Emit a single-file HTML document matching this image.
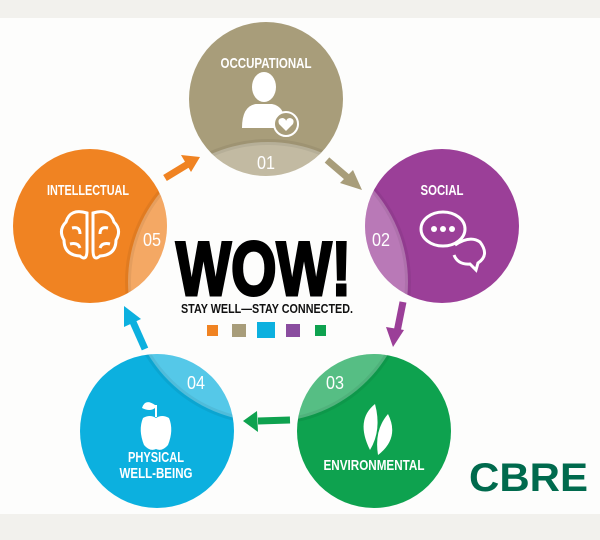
<!DOCTYPE html>
<html><head><meta charset="utf-8"><style>
html,body{margin:0;padding:0;background:#fff}
svg{display:block}
text{font-family:"Liberation Sans Narrow","Liberation Sans",sans-serif;font-weight:bold}
</style></head><body>
<svg width="600" height="540" viewBox="0 0 600 540" xmlns="http://www.w3.org/2000/svg">
<rect x="0" y="0" width="600" height="540" fill="#fdfdfc"/>
<rect x="0" y="0" width="600" height="18" fill="#f2f1ed"/>
<rect x="0" y="514" width="600" height="26" fill="#f2f1ed"/>
<defs>
<clipPath id="c1"><circle cx="266" cy="99" r="77"/></clipPath>
<clipPath id="c2"><circle cx="442" cy="226" r="77"/></clipPath>
<clipPath id="c3"><circle cx="374" cy="431" r="77"/></clipPath>
<clipPath id="c4"><circle cx="157" cy="431" r="77"/></clipPath>
<clipPath id="c5"><circle cx="90" cy="226" r="77"/></clipPath>
</defs>
<circle cx="266" cy="99" r="77" fill="#a89d7a"/>
<circle cx="442" cy="226" r="77" fill="#9b3f98"/>
<circle cx="374" cy="431" r="77" fill="#0ea24f"/>
<circle cx="157" cy="431" r="77" fill="#0cb0df"/>
<circle cx="90" cy="226" r="77" fill="#f08322"/>
<g fill="#fff" fill-opacity="0.3" stroke="#000" stroke-opacity="0.06" stroke-width="6">
<circle cx="268" cy="282" r="140" clip-path="url(#c1)"/>
<circle cx="268" cy="282" r="140" clip-path="url(#c2)"/>
<circle cx="268" cy="282" r="140" clip-path="url(#c3)"/>
<circle cx="268" cy="282" r="140" clip-path="url(#c4)"/>
<circle cx="268" cy="282" r="140" clip-path="url(#c5)"/>
</g>
<g fill="#fff" font-size="15" text-anchor="middle">
<text x="266" y="68" textLength="91" lengthAdjust="spacingAndGlyphs">OCCUPATIONAL</text>
<text x="442" y="195" textLength="43" lengthAdjust="spacingAndGlyphs">SOCIAL</text>
<text x="88" y="195" textLength="82" lengthAdjust="spacingAndGlyphs">INTELLECTUAL</text>
<text x="374" y="470" textLength="101" lengthAdjust="spacingAndGlyphs">ENVIRONMENTAL</text>
<text x="156" y="462" textLength="56" lengthAdjust="spacingAndGlyphs">PHYSICAL</text>
<text x="156" y="478" textLength="73" lengthAdjust="spacingAndGlyphs">WELL-BEING</text>
</g>
<g fill="#fff" font-size="18" text-anchor="middle">
<text x="266" y="169" style="font-weight:normal" textLength="18" lengthAdjust="spacingAndGlyphs">01</text>
<text x="381" y="246" style="font-weight:normal" textLength="18" lengthAdjust="spacingAndGlyphs">02</text>
<text x="335" y="389" style="font-weight:normal" textLength="18" lengthAdjust="spacingAndGlyphs">03</text>
<text x="196" y="389" style="font-weight:normal" textLength="18" lengthAdjust="spacingAndGlyphs">04</text>
<text x="152" y="246" style="font-weight:normal" textLength="18" lengthAdjust="spacingAndGlyphs">05</text>
</g>
<g fill="#fff">
<ellipse cx="264" cy="87" rx="12" ry="15"/>
<path d="M242 128 Q242 106 256 104 L272 104 Q282 106 284 116 L280 128 Z"/>
<circle cx="286" cy="124" r="12" fill="#a89d7a" stroke="#fff" stroke-width="2"/>
<path d="M286 131 L279 124 Q277 118 283 118 Q286 119 286 121 Q287 118 290 118 Q295 119 293 124 Z"/>
</g>
<g fill="none" stroke="#fff" stroke-width="3">
<ellipse cx="443" cy="229" rx="22" ry="17"/>
<path d="M455 245 Q470 235 480 242 Q490 255 478 263 L476 270 L470 264 Q458 265 454 255"/>
</g>
<g fill="#fff"><circle cx="434" cy="229" r="3"/><circle cx="443" cy="229" r="3"/><circle cx="452" cy="229" r="3"/></g>
<g fill="none" stroke="#fff" stroke-width="3">
<path d="M87 213 Q70 208 66 222 Q58 230 64 240 Q64 255 80 256 Q87 262 87 250 Z"/>
<path d="M93 213 Q110 208 114 222 Q122 230 116 240 Q116 255 100 256 Q93 262 93 250 Z"/>
<path d="M72 228 Q80 226 80 234 M108 228 Q100 226 100 234 M70 244 Q78 242 80 248 M110 244 Q102 242 100 248"/>
</g>
<g fill="#fff">
<path d="M375 404 Q355 420 370 450 Q382 430 375 404 Z"/>
<path d="M388 414 Q400 438 378 455 Q374 430 388 414 Z"/>
<path d="M143 418 Q150 414 156 418 Q162 414 169 418 Q174 430 168 445 Q162 452 156 449 Q150 452 144 445 Q138 430 143 418 Z"/>
<path d="M155 405 Q145 398 142 408 Q150 412 155 408 Z"/>
<rect x="155" y="405" width="2" height="12"/>
</g>
<g stroke-width="7" fill="none">
<line x1="165" y1="178" x2="188" y2="164" stroke="#f08322"/>
<line x1="327" y1="160" x2="348" y2="178" stroke="#a89d7a"/>
<line x1="403" y1="302" x2="397" y2="332" stroke="#9b3f98"/>
<line x1="290" y1="420" x2="258" y2="421" stroke="#0ea24f"/>
<line x1="145" y1="349" x2="133" y2="322" stroke="#0cb0df"/>
</g>
<polygon points="200,157 181,155 191,172" fill="#f08322"/>
<polygon points="362,190 340,183 353,170" fill="#a89d7a"/>
<polygon points="393,347 386,327 404,330" fill="#9b3f98"/>
<polygon points="243,421 257,411 258,432" fill="#0ea24f"/>
<polygon points="124,306 124,327 141,319" fill="#0cb0df"/>
<text x="176" y="295" font-size="76" fill="#000" stroke="#000" stroke-width="3" textLength="175" lengthAdjust="spacingAndGlyphs" style="font-family:'Liberation Sans',sans-serif;font-weight:900">WOW!</text>
<text x="181" y="313" font-size="13" fill="#111" textLength="172" lengthAdjust="spacingAndGlyphs">STAY WELL—STAY CONNECTED.</text>
<rect x="207" y="325" width="11" height="11" fill="#f08322"/>
<rect x="232" y="324" width="14" height="13" fill="#a89d7a"/>
<rect x="257" y="322" width="18" height="16" fill="#0cb0df"/>
<rect x="286" y="324" width="14" height="13" fill="#8a4d9f"/>
<rect x="315" y="325" width="11" height="11" fill="#0ea24f"/>
<text x="469" y="491" font-size="40" fill="#006a4d" textLength="119" lengthAdjust="spacingAndGlyphs" style="font-family:'Liberation Sans',sans-serif;font-weight:bold">CBRE</text>
</svg>
</body></html>
